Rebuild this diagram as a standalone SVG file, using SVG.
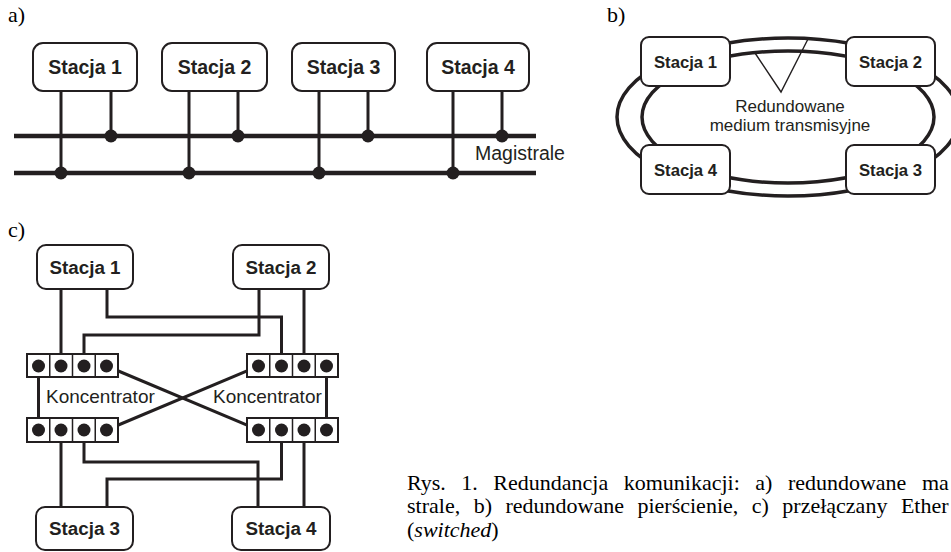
<svg xmlns="http://www.w3.org/2000/svg" width="951" height="552" viewBox="0 0 951 552">
<style>
.bg{fill:#ffffff}
.box{fill:#ffffff;stroke:#231f20;stroke-width:2}
.hub{fill:#ffffff;stroke:#231f20;stroke-width:2}
.div{stroke:#231f20;stroke-width:1.5}
.ln{fill:none;stroke:#231f20;stroke-width:3}
.bus{fill:none;stroke:#231f20;stroke-width:4.5}
.ring{fill:none;stroke:#231f20;stroke-width:3.5}
.thin{fill:none;stroke:#231f20;stroke-width:1.4}
.dot{fill:#231f20}
.st{font-family:"Liberation Sans",Arial,sans-serif;font-weight:bold;fill:#231f20;text-anchor:middle}
.lbl{font-family:"Liberation Sans",Arial,sans-serif;fill:#231f20}
.cap{font-family:"Liberation Serif","Times New Roman",serif;font-size:22px;fill:#000}
</style>
<rect class="bg" x="0" y="0" width="951" height="552"/>

<!-- panel letters -->
<text class="cap" x="8" y="22" font-size="21">a)</text>
<text class="cap" x="607" y="22" font-size="21">b)</text>
<text class="cap" x="8" y="237" font-size="21">c)</text>

<!-- ===== a) connectors ===== -->
<g id="a-connectors">
  <line class="bus" x1="14" y1="136" x2="536" y2="136"/>
  <line class="bus" x1="14" y1="173" x2="536" y2="173"/>
  <line class="ln" x1="61" y1="91" x2="61" y2="173"/>
  <line class="ln" x1="111" y1="91" x2="111" y2="136"/>
  <line class="ln" x1="189" y1="91" x2="189" y2="173"/>
  <line class="ln" x1="238" y1="91" x2="238" y2="136"/>
  <line class="ln" x1="319" y1="91" x2="319" y2="173"/>
  <line class="ln" x1="368" y1="91" x2="368" y2="136"/>
  <line class="ln" x1="453" y1="91" x2="453" y2="173"/>
  <line class="ln" x1="502" y1="91" x2="502" y2="136"/>
  <circle class="dot" cx="111" cy="136" r="6.5"/>
  <circle class="dot" cx="61" cy="173" r="6.5"/>
  <circle class="dot" cx="238" cy="136" r="6.5"/>
  <circle class="dot" cx="189" cy="173" r="6.5"/>
  <circle class="dot" cx="368" cy="136" r="6.5"/>
  <circle class="dot" cx="319" cy="173" r="6.5"/>
  <circle class="dot" cx="502" cy="136" r="6.5"/>
  <circle class="dot" cx="453" cy="173" r="6.5"/>
  <text class="lbl" x="475" y="160" font-size="19.5">Magistrale</text>
</g>
<g id="a-stacja1"><rect class="box" x="33" y="43" width="104" height="48" rx="10"/><text class="st" x="85" y="74" font-size="19.5">Stacja 1</text></g>
<g id="a-stacja2"><rect class="box" x="162" y="43" width="105" height="48" rx="10"/><text class="st" x="214.5" y="74" font-size="19.5">Stacja 2</text></g>
<g id="a-stacja3"><rect class="box" x="292" y="43" width="103" height="48" rx="10"/><text class="st" x="343.5" y="74" font-size="19.5">Stacja 3</text></g>
<g id="a-stacja4"><rect class="box" x="427" y="43" width="102" height="48" rx="10"/><text class="st" x="478" y="74" font-size="19.5">Stacja 4</text></g>

<!-- ===== b) connectors ===== -->
<g id="b-connectors">
  <ellipse class="ring" cx="788" cy="117" rx="171" ry="79"/>
  <ellipse class="ring" cx="788" cy="117" rx="146" ry="66"/>
  <polyline class="thin" points="755,53 781,92 808,39"/>
  <text class="lbl" x="790" y="112" font-size="17" text-anchor="middle">Redundowane</text>
  <text class="lbl" x="790" y="131" font-size="17" text-anchor="middle">medium transmisyjne</text>
</g>
<g id="b-stacja1"><rect class="box" x="641" y="37" width="89" height="49" rx="8"/><text class="st" x="685.5" y="67.5" font-size="16.7">Stacja 1</text></g>
<g id="b-stacja2"><rect class="box" x="846" y="37" width="89" height="49" rx="8"/><text class="st" x="890.5" y="67.5" font-size="16.7">Stacja 2</text></g>
<g id="b-stacja4"><rect class="box" x="641" y="145" width="89" height="49" rx="8"/><text class="st" x="685.5" y="175.5" font-size="16.7">Stacja 4</text></g>
<g id="b-stacja3"><rect class="box" x="846" y="145" width="89" height="49" rx="8"/><text class="st" x="890.5" y="175.5" font-size="16.7">Stacja 3</text></g>

<!-- ===== c) connectors ===== -->
<g id="c-connectors">
  <line class="ln" x1="61" y1="289" x2="61" y2="366"/>
  <path class="ln" d="M107,289 V317 H281.5 V366"/>
  <path class="ln" d="M259,289 V335 H84 V366"/>
  <line class="ln" x1="304" y1="289" x2="304" y2="366"/>
  <line class="ln" x1="106.5" y1="366" x2="258.5" y2="430"/>
  <line class="ln" x1="258.5" y1="366" x2="106.5" y2="430"/>
  <line class="ln" x1="38.5" y1="366" x2="38.5" y2="430"/>
  <line class="ln" x1="326.5" y1="366" x2="326.5" y2="430"/>
  <line class="ln" x1="61" y1="430" x2="61" y2="507"/>
  <path class="ln" d="M84,430 V462 H258 V507"/>
  <path class="ln" d="M281.5,430 V479 H107 V507"/>
  <line class="ln" x1="304" y1="430" x2="304" y2="507"/>
  <text class="lbl" x="46" y="403" font-size="19">Koncentrator</text>
  <text class="lbl" x="213" y="403" font-size="19">Koncentrator</text>
</g>
<g id="c-hub-left-top">
  <rect class="hub" x="27" y="354" width="91" height="23"/>
  <line class="div" x1="49.75" y1="354" x2="49.75" y2="377"/>
  <line class="div" x1="72.5" y1="354" x2="72.5" y2="377"/>
  <line class="div" x1="95.25" y1="354" x2="95.25" y2="377"/>
  <circle class="dot" cx="38.5" cy="366" r="6.5"/><circle class="dot" cx="61" cy="366" r="6.5"/><circle class="dot" cx="84" cy="366" r="6.5"/><circle class="dot" cx="106.5" cy="366" r="6.5"/>
</g>
<g id="c-hub-right-top">
  <rect class="hub" x="247" y="354" width="91" height="23"/>
  <line class="div" x1="269.75" y1="354" x2="269.75" y2="377"/>
  <line class="div" x1="292.5" y1="354" x2="292.5" y2="377"/>
  <line class="div" x1="315.25" y1="354" x2="315.25" y2="377"/>
  <circle class="dot" cx="258.5" cy="366" r="6.5"/><circle class="dot" cx="281.5" cy="366" r="6.5"/><circle class="dot" cx="304" cy="366" r="6.5"/><circle class="dot" cx="326.5" cy="366" r="6.5"/>
</g>
<g id="c-hub-left-bottom">
  <rect class="hub" x="27" y="418" width="91" height="24"/>
  <line class="div" x1="49.75" y1="418" x2="49.75" y2="442"/>
  <line class="div" x1="72.5" y1="418" x2="72.5" y2="442"/>
  <line class="div" x1="95.25" y1="418" x2="95.25" y2="442"/>
  <circle class="dot" cx="38.5" cy="430" r="6.5"/><circle class="dot" cx="61" cy="430" r="6.5"/><circle class="dot" cx="84" cy="430" r="6.5"/><circle class="dot" cx="106.5" cy="430" r="6.5"/>
</g>
<g id="c-hub-right-bottom">
  <rect class="hub" x="247" y="418" width="91" height="24"/>
  <line class="div" x1="269.75" y1="418" x2="269.75" y2="442"/>
  <line class="div" x1="292.5" y1="418" x2="292.5" y2="442"/>
  <line class="div" x1="315.25" y1="418" x2="315.25" y2="442"/>
  <circle class="dot" cx="258.5" cy="430" r="6.5"/><circle class="dot" cx="281.5" cy="430" r="6.5"/><circle class="dot" cx="304" cy="430" r="6.5"/><circle class="dot" cx="326.5" cy="430" r="6.5"/>
</g>
<g id="c-stacja1"><rect class="box" x="37" y="245" width="96" height="44" rx="9"/><text class="st" x="85" y="274" font-size="18.8">Stacja 1</text></g>
<g id="c-stacja2"><rect class="box" x="233" y="245" width="96" height="44" rx="9"/><text class="st" x="281" y="274" font-size="18.8">Stacja 2</text></g>
<g id="c-stacja3"><rect class="box" x="36" y="507" width="97" height="43" rx="9"/><text class="st" x="84.5" y="535" font-size="18.8">Stacja 3</text></g>
<g id="c-stacja4"><rect class="box" x="232" y="507" width="98" height="43" rx="9"/><text class="st" x="281" y="535" font-size="18.8">Stacja 4</text></g>

<!-- caption -->
<g id="caption">
  <text class="cap" x="407" y="490" word-spacing="10">Rys. 1. Redundancja komunikacji: a) redundowane ma</text>
  <text class="cap" x="407" y="513" word-spacing="8">strale, b) redundowane pierścienie, c) przełączany Ether</text>
  <text class="cap" x="407" y="537">(<tspan font-style="italic">switched</tspan>)</text>
</g>
</svg>
